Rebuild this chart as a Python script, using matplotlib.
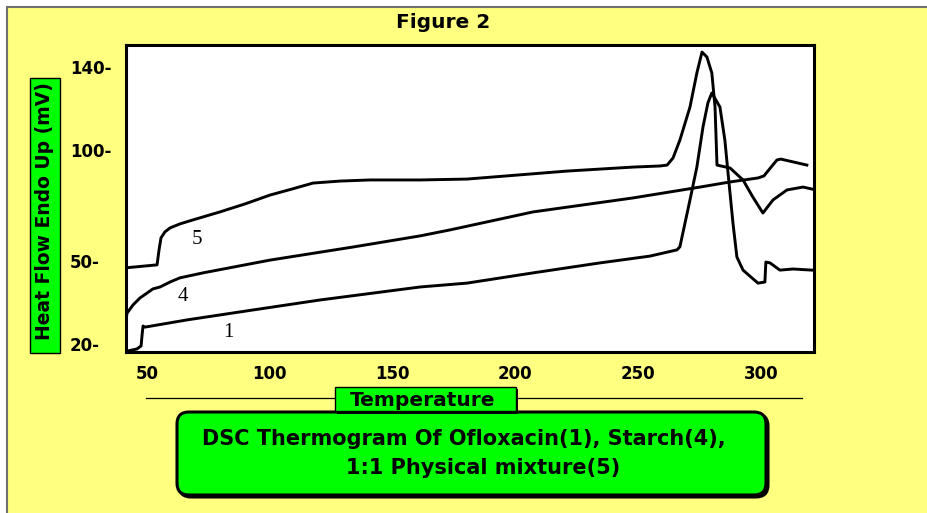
import matplotlib
matplotlib.use("Agg")
import matplotlib.pyplot as plt
import numpy as np
from matplotlib.lines import Line2D
from matplotlib.patches import FancyBboxPatch, Rectangle
from matplotlib.transforms import Affine2D

# DSC traces: temperature (°C) vs heat flow (mV)
T1 = [42.3, 45.9, 47.6, 48.0, 48.4, 49.2, 66.3, 93.2, 120.4, 161.2, 180.3, 207.2,
      234.4, 254.8, 265.8, 267.0, 268.2, 271.1, 273.9, 276.4, 278.4, 280.0, 283.3,
      285.3, 286.6, 288.6, 290.2, 292.7, 296.3, 298.8, 301.6, 302.0, 303.7, 307.7,
      313.0, 320.8]
H1 = [17.5, 18.2, 19.3, 23.3, 26.5, 26.1, 28.7, 32.3, 35.9, 40.6, 42.0, 45.7,
      49.3, 52.2, 55.0, 56.4, 62.6, 77.5, 92.3, 111.1, 122.7, 127.5, 120.7,
      104.8, 89.6, 67.1, 51.8, 46.7, 43.9, 42.0, 42.4, 49.6, 49.3, 46.7,
      47.1, 46.7]

T4 = [41.4, 41.9, 44.3, 47.1, 50.0, 52.4, 55.3, 59.4, 63.4, 72.8, 100.1, 133.9,
      161.2, 173.4, 207.2, 247.9, 275.2, 287.4, 298.8, 301.2, 306.5, 308.1, 318.7]
H4 = [28.7, 31.2, 34.1, 36.6, 38.4, 39.9, 40.6, 42.4, 43.9, 45.7, 50.4, 56.3,
      61.3, 64.0, 72.1, 78.4, 83.3, 85.6, 87.4, 88.3, 95.5, 95.9, 93.2]

T5 = [41.0, 54.1, 54.9, 55.7, 57.3, 59.4, 63.4, 68.7, 79.7, 89.9, 100.1, 109.0,
      117.6, 128.6, 140.8, 161.2, 180.3, 200.7, 221.0, 247.9, 258.9, 261.8, 264.2,
      267.0, 271.1, 273.9, 276.0, 278.0, 280.0, 281.3, 282.1, 287.4, 292.7, 296.7,
      300.8, 304.9, 310.6, 317.1, 320.8]
H5 = [47.5, 48.6, 55.0, 60.4, 63.1, 64.9, 66.7, 68.5, 72.1, 75.7, 79.7, 82.4,
      85.1, 86.0, 86.5, 86.5, 86.9, 88.7, 90.5, 92.3, 92.8, 93.2, 96.4,
      104.8, 120.7, 137.1, 147.2, 144.8, 137.1, 120.7, 93.2, 91.9, 86.5, 78.8,
      71.6, 77.5, 82.0, 83.3, 82.4]

curve_labels = ["1", "4", "5"]
label_at = [(83.0, 24.0), (64.7, 37.0), (70.4, 59.5)]

X_TICKS = [50, 100, 150, 200, 250, 300]
Y_TICKS = [20, 50, 100, 140]

# the original y axis is not evenly spaced: tick rows (px from top) for Y_TICKS
tick_rows = np.array([344.0, 261.0, 150.0, 67.0])
lo_slope = (tick_rows[0] - tick_rows[1]) / (Y_TICKS[1] - Y_TICKS[0])
hi_slope = (tick_rows[2] - tick_rows[3]) / (Y_TICKS[3] - Y_TICKS[2])
knot_v = np.array([-100.0] + Y_TICKS + [400.0])
knot_s = -np.concatenate([[tick_rows[0] + lo_slope * 120],
                          tick_rows,
                          [tick_rows[3] - hi_slope * 260]])


def fwd(v):
    return np.interp(v, knot_v, knot_s)


def inv(s):
    return np.interp(s, knot_s, knot_v)


W, H = 928, 513
fig = plt.figure(figsize=(W / 100, H / 100), dpi=100)
fig.patch.set_facecolor("white")
PX = Affine2D().scale(1 / W, -1 / H).translate(0, 1) + fig.transFigure

fig.add_artist(Rectangle((7, 7), W + 40, H + 40, transform=PX, facecolor="#ffff80",
                         edgecolor="#707070", linewidth=1.5, zorder=-5))

ax = fig.add_axes([126 / W, 1 - 352 / H, 688 / W, 307 / H])
ax.set_facecolor("white")
ax.set_yscale("function", functions=(fwd, inv))

for t, h in [(T1, H1), (T4, H4), (T5, H5)]:
    ax.plot(t, h, color="black", linewidth=2.1)

for s, (x, y) in zip(curve_labels, label_at):
    ax.text(x, y, s, fontfamily="Liberation Serif", fontsize=15,
            ha="center", va="center")

ax.set_xlim(41.45, 321.6)
ax.set_ylim(17.1, 150.6)

ax.set_xticks(X_TICKS, [str(v) for v in X_TICKS], fontweight="bold")
ax.set_yticks(Y_TICKS, [f"{v}-" for v in Y_TICKS], fontweight="bold")
ax.minorticks_off()
ax.tick_params(axis="x", length=0, pad=9.5, labelsize=12)
ax.tick_params(axis="y", length=0, pad=40.3, labelsize=12)
for tk in ax.yaxis.get_major_ticks():
    tk.label1.set_horizontalalignment("left")
for sp in ax.spines.values():
    sp.set_linewidth(2.2)

fig.text(443, 22, "Figure 2", transform=PX, ha="center", va="center",
         fontsize=14.5, fontweight="bold")

# y label in a green strip
fig.add_artist(Rectangle((30, 78), 30, 275, transform=PX, facecolor="#00ff00",
                         edgecolor="black", linewidth=1))
fig.text(45, 211, "Heat Flow Endo Up (mV)", transform=PX, rotation=90,
         ha="center", va="center", fontsize=13.5, fontweight="bold")

# caption
fig.add_artist(FancyBboxPatch((179, 414), 589, 83, transform=PX,
                              boxstyle="round,pad=0,rounding_size=12",
                              facecolor="black", edgecolor="black", linewidth=2.2))
fig.add_artist(FancyBboxPatch((177, 412), 589, 83, transform=PX,
                              boxstyle="round,pad=0,rounding_size=12",
                              facecolor="#00ff00", edgecolor="black", linewidth=2.2))
fig.text(464, 439, "DSC Thermogram Of Ofloxacin(1), Starch(4),", transform=PX,
         ha="center", va="center", fontsize=15, fontweight="bold")
fig.text(483, 468, "1:1 Physical mixture(5)", transform=PX,
         ha="center", va="center", fontsize=15, fontweight="bold")

# x label box on a thin rule, sitting on top of the caption
fig.add_artist(Line2D([146, 802], [398, 398], transform=PX, color="black",
                      linewidth=0.9, zorder=3))
fig.add_artist(Rectangle((337, 389), 181, 25, transform=PX, facecolor="black",
                         zorder=3))
fig.add_artist(Rectangle((335, 387), 181, 24, transform=PX, facecolor="#00ff00",
                         edgecolor="black", linewidth=1, zorder=3))
fig.text(423, 406, "Temperature", transform=PX, ha="center", va="baseline",
         fontsize=14.5, fontweight="bold", zorder=4)

fig.savefig("out.png", dpi=100)
